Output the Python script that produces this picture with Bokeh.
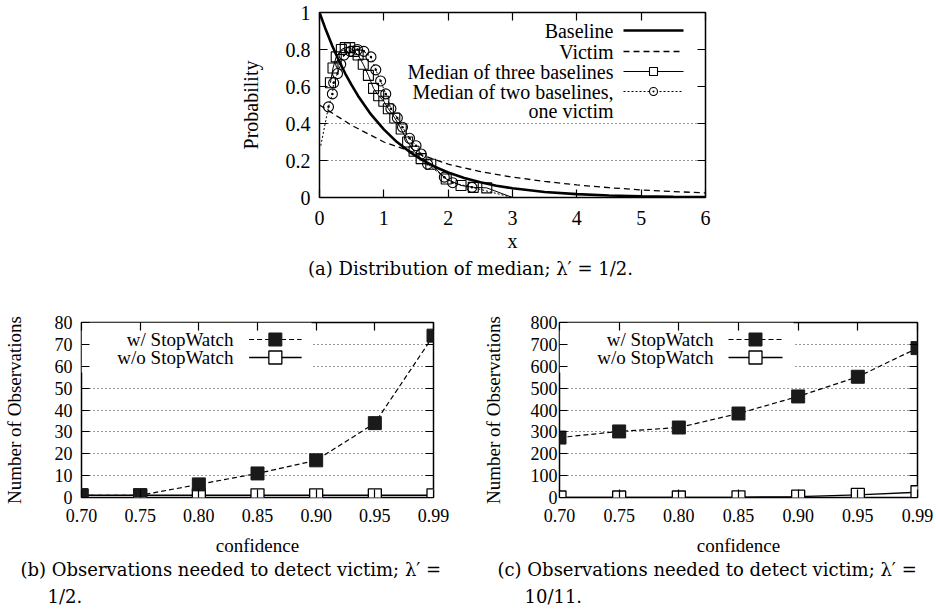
from bokeh.plotting import figure
from bokeh.layouts import column, row
from bokeh.models import (FixedTicker, LinearAxis, Range1d, Label, BoxAnnotation,
                          CustomJSTickFormatter)
from bokeh.embed import file_html
from bokeh.resources import INLINE

# ---------------- data: panel (a) ----------------
base_x = [0.0, 0.1, 0.2, 0.3, 0.4, 0.5, 0.6, 0.8, 1.0, 1.2, 1.4, 1.6, 1.8, 2.0,
          2.25, 2.5, 2.75, 3.0, 3.5, 4.0, 4.5, 5.0, 5.5, 6.0]
base_y = [1.0, 0.905, 0.819, 0.741, 0.670, 0.607, 0.549, 0.449, 0.368, 0.301,
          0.247, 0.202, 0.165, 0.135, 0.105, 0.082, 0.064, 0.050, 0.030, 0.018,
          0.011, 0.007, 0.004, 0.0025]
vic_x = [0.0, 0.5, 1.0, 1.5, 2.0, 2.5, 3.0, 3.5, 4.0, 4.5, 5.0, 5.5, 6.0]
vic_y = [0.50, 0.39, 0.30, 0.24, 0.18, 0.14, 0.11, 0.087, 0.068, 0.053, 0.041,
         0.032, 0.025]
med3_x = [0.17, 0.21, 0.26, 0.34, 0.40, 0.47, 0.54, 0.60, 0.68, 0.76, 0.84, 0.92,
          1.00, 1.07, 1.17, 1.27, 1.37, 1.47, 1.58, 1.73, 1.97, 2.20, 2.39, 2.60, 3.00]
med3_y = [0.62, 0.70, 0.76, 0.80, 0.81, 0.81, 0.79, 0.77, 0.72, 0.66, 0.59, 0.55,
          0.52, 0.48, 0.43, 0.37, 0.30, 0.25, 0.21, 0.18, 0.10, 0.065, 0.055, 0.052, 0.0]
med2_x = [0.02, 0.14, 0.20, 0.22, 0.28, 0.33, 0.38, 0.48, 0.59, 0.69, 0.80, 0.875,
          0.95, 1.03, 1.11, 1.21, 1.29, 1.40, 1.50, 1.58, 1.68, 1.94, 2.07, 2.37, 3.00]
med2_y = [0.28, 0.49, 0.56, 0.62, 0.67, 0.72, 0.77, 0.79, 0.80, 0.79, 0.76, 0.69,
          0.63, 0.56, 0.48, 0.43, 0.38, 0.32, 0.28, 0.235, 0.18, 0.11, 0.08, 0.055, 0.0]
a_xticks = [0, 1, 2, 3, 4, 5, 6]
a_yticks = [0, 0.2, 0.4, 0.6, 0.8, 1.0]
a_ytick_labels = ["0", "0.2", "0.4", "0.6", "0.8", "1"]
a_grid = [0.2, 0.4]
a_legend = ["Baseline", "Victim", "Median of three baselines",
            "Median of two baselines,", "one victim"]

# ---------------- data: panels (b) and (c) ----------------
conf_labels = ["0.70", "0.75", "0.80", "0.85", "0.90", "0.95", "0.99"]
conf_idx = list(range(len(conf_labels)))
b_with = [1, 1, 6, 11, 17, 34, 74]
b_without = [1, 1, 1, 1, 1, 1, 1]
c_with = [274, 302, 320, 384, 462, 552, 683]
c_without = [0, 0, 0, 1, 4, 12, 24]
b_yticks = [0, 10, 20, 30, 40, 50, 60, 70, 80]
c_yticks = [0, 100, 200, 300, 400, 500, 600, 700, 800]
bc_legend = ["w/ StopWatch", "w/o StopWatch"]

SERIF = "Liberation Serif"
CAP_FONT = "DejaVu Serif"
cap_a = "(a) Distribution of median; \u03bb\u2032 = 1/2."
cap_b = ["(b) Observations needed to detect victim; \u03bb\u2032 =", "1/2."]
cap_c = ["(c) Observations needed to detect victim; \u03bb\u2032 =", "10/11."]


def style_axis(ax, fs, standoff, label_standoff):
    ax.axis_line_color = None
    ax.major_tick_in = 8
    ax.major_tick_out = 0
    ax.minor_tick_line_color = None
    ax.major_tick_line_color = "black"
    ax.major_tick_line_width = 1.2
    ax.major_label_text_font = SERIF
    ax.major_label_text_font_size = fs
    ax.major_label_text_color = "black"
    ax.major_label_standoff = standoff
    ax.axis_label_text_font = SERIF
    ax.axis_label_text_font_style = "normal"
    ax.axis_label_text_font_size = fs
    ax.axis_label_text_color = "black"
    ax.axis_label_standoff = label_standoff


def add_mirror(p, place, ticks):
    ax = LinearAxis(ticker=FixedTicker(ticks=ticks),
                    formatter=CustomJSTickFormatter(code="return ''"))
    ax.axis_line_color = None
    ax.major_tick_in = 8
    ax.major_tick_out = 0
    ax.minor_tick_line_color = None
    ax.major_tick_line_color = "black"
    ax.major_tick_line_width = 1.2
    ax.major_label_text_font_size = "0px"
    ax.major_label_text_color = None
    ax.major_label_standoff = 0
    p.add_layout(ax, place)


def base_fig(w, h, xr, yr, bl, br, bt, bb):
    p = figure(width=w, height=h, x_range=xr, y_range=yr, output_backend="svg",
               toolbar_location=None, min_border_left=bl, min_border_right=br,
               min_border_top=bt, min_border_bottom=bb)
    p.outline_line_color = "black"
    p.outline_line_width = 1.5
    p.xgrid.visible = False
    p.ygrid.grid_line_color = "#333333"
    p.ygrid.grid_line_dash = "1 3"
    p.ygrid.grid_line_width = 1
    p.background_fill_color = "white"
    p.border_fill_color = "white"
    return p


def caption_fig(w, h, lines):
    """lines: list of (x_from_left, y_from_top, text, align)"""
    f = figure(width=w, height=h, x_range=Range1d(0, 1), y_range=Range1d(0, 1),
               output_backend="svg", toolbar_location=None, min_border=0,
               x_axis_location=None, y_axis_location=None)
    f.outline_line_color = None
    f.xgrid.visible = False
    f.ygrid.visible = False
    f.border_fill_color = "white"
    for x, y, txt, al in lines:
        f.add_layout(Label(x=x, y=h - y, x_units="screen", y_units="screen",
                           text=txt, text_align=al, text_baseline="middle",
                           text_font=CAP_FONT, text_font_size="18px",
                           text_color="black"))
    return f


def ax_x(px, r, w):
    return r.start + px / w * (r.end - r.start)


def ax_y(py, r, h):
    return r.end - py / h * (r.end - r.start)


# ================= panel (a) =================
A_W, A_H = 386, 185
pa = base_fig(936, 254, Range1d(0, 6), Range1d(0, 1), 319, 231, 12, 57)
pa.xaxis.ticker = FixedTicker(ticks=a_xticks)
pa.yaxis.ticker = FixedTicker(ticks=a_yticks)
pa.yaxis.major_label_overrides = dict(zip(a_yticks, a_ytick_labels))
pa.ygrid.ticker = FixedTicker(ticks=a_grid)
pa.xaxis.axis_label = "x"
pa.yaxis.axis_label = "Probability"
style_axis(pa.xaxis[0], "20px", 13, 2)
style_axis(pa.yaxis[0], "20px", 9, 21)
add_mirror(pa, "above", a_xticks)
add_mirror(pa, "right", a_yticks)

pa.line(vic_x, vic_y, line_color="black", line_width=1.3, line_dash="6 4")
pa.line(base_x, base_y, line_color="black", line_width=2.6)
pa.line(med3_x, med3_y, line_color="black", line_width=1.0)
pa.scatter(med3_x[:-1], med3_y[:-1], marker="square", size=10, fill_color=None,
           line_color="black", line_width=1.1)
pa.line(med2_x, med2_y, line_color="black", line_width=1.0, line_dash="2 2")
pa.scatter(med2_x[1:-1], med2_y[1:-1], marker="circle_dot", size=10, fill_color=None,
           line_color="black", line_width=1.1)

# legend (a): positions in frame pixels (from left / from top)
rows_a = [18, 39, 59, 79, 98]
for txt, ry in zip(a_legend, rows_a):
    pa.add_layout(Label(x=294, y=A_H - ry, x_units="screen", y_units="screen",
                        text=txt, text_align="right", text_baseline="middle",
                        text_font=SERIF, text_font_size="20px", text_color="black"))
lx0 = ax_x(304, pa.x_range, A_W)
lx1 = ax_x(364, pa.x_range, A_W)
lxm = ax_x(334, pa.x_range, A_W)
yl = [ax_y(r, pa.y_range, A_H) for r in rows_a]
pa.line([lx0, lx1], [yl[0], yl[0]], line_color="black", line_width=2.6)
pa.line([lx0, lx1], [yl[1], yl[1]], line_color="black", line_width=1.3, line_dash="6 4")
pa.line([lx0, lx1], [yl[2], yl[2]], line_color="black", line_width=1.0)
pa.scatter([lxm], [yl[2]], marker="square", size=8, fill_color="white",
           line_color="black", line_width=1.1)
pa.line([lx0, lx1], [yl[3], yl[3]], line_color="black", line_width=1.0, line_dash="2 2")
pa.scatter([lxm], [yl[3]], marker="circle_dot", size=8, fill_color="white",
           line_color="black", line_width=1.1)

cap_fig_a = caption_fig(936, 44, [(470, 14, cap_a, "center")])


# ================= panels (b) and (c) =================
def make_bc(w, bl, br, fw, yticks, ymax, with_v, without_v, leg_txt_x, leg_x0,
            leg_x1, leg_xm, box_r, ylab_standoff, ytick_standoff):
    FH = 175
    p = base_fig(w, 260, Range1d(0, 6), Range1d(0, ymax), bl, br, 24, 61)
    p.xaxis.ticker = FixedTicker(ticks=conf_idx)
    p.xaxis.major_label_overrides = dict(zip(conf_idx, conf_labels))
    p.yaxis.ticker = FixedTicker(ticks=yticks)
    p.ygrid.ticker = FixedTicker(ticks=yticks[1:-1])
    p.xaxis.axis_label = "confidence"
    p.yaxis.axis_label = "Number of Observations"
    style_axis(p.xaxis[0], "19px", 11, 10)
    style_axis(p.yaxis[0], "19px", ytick_standoff, ylab_standoff)
    p.xaxis[0].major_label_text_font_size = "18px"
    p.yaxis[0].major_label_text_font_size = "18px"
    add_mirror(p, "above", conf_idx)
    add_mirror(p, "right", yticks)

    # opaque legend area hiding the grid
    box = BoxAnnotation(left=0, right=ax_x(box_r, p.x_range, fw),
                        top=ymax, bottom=ax_y(50, p.y_range, FH),
                        fill_color="white", fill_alpha=1.0, line_color=None,
                        level="underlay")
    p.add_layout(box)

    p.line(conf_idx, without_v, line_color="black", line_width=1.4)
    p.scatter(conf_idx, without_v, marker="square", size=13, fill_color="white",
              line_color="black", line_width=1.3)
    p.line(conf_idx, with_v, line_color="black", line_width=1.2, line_dash="5 3")
    p.scatter(conf_idx, with_v, marker="square", size=13, fill_color="#1a1a1a",
              line_color="#1a1a1a", line_width=1)

    rows = [17, 35]
    for txt, ry in zip(bc_legend, rows):
        p.add_layout(Label(x=leg_txt_x, y=FH - ry, x_units="screen", y_units="screen",
                           text=txt, text_align="right", text_baseline="middle",
                           text_font=SERIF, text_font_size="19px", text_color="black"))
    x0 = ax_x(leg_x0, p.x_range, fw)
    x1 = ax_x(leg_x1, p.x_range, fw)
    xm = ax_x(leg_xm, p.x_range, fw)
    y0 = ax_y(rows[0], p.y_range, FH)
    y1 = ax_y(rows[1], p.y_range, FH)
    p.line([x0, x1], [y0, y0], line_color="black", line_width=1.2, line_dash="5 3")
    p.scatter([xm], [y0], marker="square", size=13, fill_color="#1a1a1a",
              line_color="#1a1a1a")
    p.line([x0, x1], [y1, y1], line_color="black", line_width=1.4)
    p.scatter([xm], [y1], marker="square", size=13, fill_color="white",
              line_color="black", line_width=1.3)
    return p


pb = make_bc(478, 78, 45, 355, b_yticks, 80, b_with, b_without,
             152, 169, 222, 195.5, 232, 27, 9)
pc = make_bc(458, 81, 19, 358, c_yticks, 800, c_with, c_without,
             154, 169, 223, 196, 234, 24, 2)

cap_fig_b = caption_fig(478, 56, [(20, 11, cap_b[0], "left"), (47, 38, cap_b[1], "left")])
cap_fig_c = caption_fig(458, 56, [(19, 11, cap_c[0], "left"), (46, 38, cap_c[1], "left")])

layout = column(pa, row(cap_fig_a, spacing=0), row(pb, pc, spacing=0),
                row(cap_fig_b, cap_fig_c, spacing=0), spacing=0)
open("out.html", "w").write(file_html(layout, INLINE))
